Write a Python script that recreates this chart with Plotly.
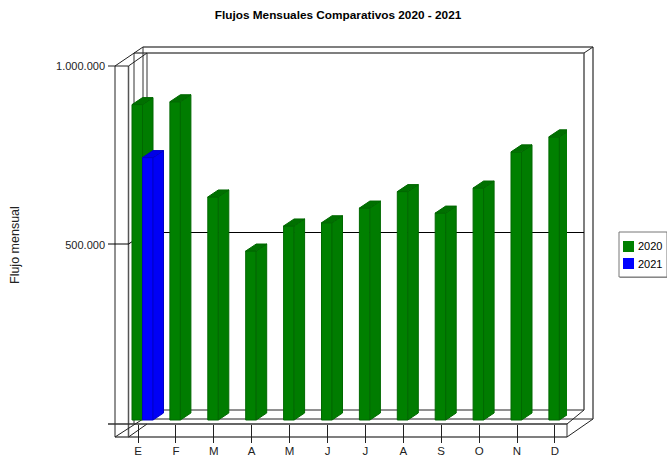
import plotly.graph_objects as go

months = ["E", "F", "M", "A", "M", "J", "J", "A", "S", "O", "N", "D"]
values_2020 = [881000, 889000, 623000, 472000, 542000, 551000, 592000, 638000, 578000, 648000, 749000, 791000]
values_2021 = [733000]
y_ticks = [0, 500000, 1000000]
y_labels = ["", "500.000", "1.000.000"]

W, H = 667, 457
L, R, T, B = 115, 567, 66, 424
STEP = 37.9
TICK0 = 138.0
PX_X = 1 / STEP
PX_Y = 1e6 / (B - T)
xr = [(L - TICK0) * PX_X, (R - TICK0) * PX_X]
BAR_W = 10.5 * PX_X
DEPTH_X = 10.5 * PX_X
DEPTH_Y = 7 * PX_Y
LIFT = 4 * PX_Y


def px(x):
    return (x - L) / (R - L)


def py(y):
    return (B - y) / (B - T)


def seg(x0, y0, x1, y1, color="#333333", width=1):
    return dict(type="line", xref="paper", yref="paper", x0=px(x0), y0=py(y0), x1=px(x1), y1=py(y1),
                line=dict(color=color, width=width), layer="below")


def faces(xs, vals, offset):
    side_x, side_y, top_x, top_y = [], [], [], []
    for x, v in zip(xs, vals):
        a = x + offset
        b = a + BAR_W
        t = v + LIFT
        side_x += [b, b + DEPTH_X, b + DEPTH_X, b, b, None]
        side_y += [LIFT, LIFT + DEPTH_Y, t + DEPTH_Y, t, LIFT, None]
        top_x += [a, a + DEPTH_X, b + DEPTH_X, b, a, None]
        top_y += [t, t + DEPTH_Y, t + DEPTH_Y, t, t, None]
    return side_x, side_y, top_x, top_y


def series(fig, name, xs, vals, offset, front, side, top, edge, xa, ya):
    sx, sy, tx, ty = faces(xs, vals, offset)
    fig.add_trace(go.Scatter(x=sx, y=sy, mode="lines", fill="toself", fillcolor=side, line=dict(color=edge, width=1),
                             showlegend=False, hoverinfo="skip", cliponaxis=False, xaxis=xa, yaxis=ya))
    fig.add_trace(go.Scatter(x=tx, y=ty, mode="lines", fill="toself", fillcolor=top, line=dict(color=edge, width=1),
                             showlegend=False, hoverinfo="skip", cliponaxis=False, xaxis=xa, yaxis=ya))
    fig.add_trace(go.Bar(x=xs, y=vals, base=[LIFT] * len(vals), name=name, width=BAR_W, offset=offset,
                         marker=dict(color=front, line=dict(color=edge, width=1)), showlegend=False,
                         cliponaxis=False, xaxis=xa, yaxis=ya))


fig = go.Figure()
positions = list(range(len(months)))
series(fig, "2020", positions, values_2020, -6 * PX_X, "#008000", "#007c00", "#007000", "#006800", "x", "y")
series(fig, "2021", positions[:len(values_2021)], values_2021, 4.5 * PX_X, "#0000ff", "#0000f5", "#0000e6", "#0000c8", "x2", "y2")

G = "#555555"
shapes = [
    # back walls
    seg(143, 47, 593, 47, G, 1.5), seg(134, 53, 584, 53, G, 1.5),
    seg(143, 419, 593, 419, "#222222"), seg(147, 410, 584, 410, "#222222"),
    seg(134, 53, 134, 424), seg(143, 47, 143, 419), seg(147, 53, 147, 410),
    seg(584, 53, 584, 410, G, 1.5), seg(593, 47, 593, 419, G, 1.5),
    # front frame
    seg(115, 66, 115, 437, "#222222"), seg(128.5, 66, 128.5, 437, G, 1.5),
    seg(108, 424, 567, 424, "#333333", 1.5), seg(115, 437, 567, 437, G, 1.5), seg(567, 424, 567, 437),
    seg(108, 66, 128.5, 66, "#222222"), seg(108, 244, 128.5, 244, "#000000"),
    # depth edges
    seg(115, 66, 143, 47, "#222222"), seg(128.5, 66, 147, 53, "#222222"), seg(115, 437, 143, 419, "#222222"),
    seg(128.5, 437, 147, 424, "#222222"),
    seg(567, 437, 593, 419, "#222222"), seg(567, 424, 584, 410, "#222222"), seg(584, 53, 593, 47, "#222222"),
    seg(128.5, 244, 147, 232, "#000000"),
    # gridline on back wall
    seg(147, 232.5, 584, 232.5, "#000000"),
    # legend
    dict(type="rect", xref="paper", yref="paper", x0=px(620), x1=px(668), y0=py(278), y1=py(233),
         fillcolor="#999999", line=dict(width=0), layer="below"),
    dict(type="rect", xref="paper", yref="paper", x0=px(619), x1=px(667), y0=py(277), y1=py(232),
         fillcolor="white", line=dict(color="#777777", width=1), layer="below"),
    dict(type="rect", xref="paper", yref="paper", x0=px(623), x1=px(634), y0=py(252), y1=py(241),
         fillcolor="#008000", line=dict(width=0)),
    dict(type="rect", xref="paper", yref="paper", x0=px(623), x1=px(634), y0=py(269), y1=py(258),
         fillcolor="#0000ff", line=dict(width=0)),
]

FONT = "Liberation Sans"
annotations = [
    dict(text=t, xref="paper", yref="paper", x=px(637), y=py(y), xanchor="left", yanchor="middle", showarrow=False,
         xshift=-1, font=dict(family=FONT, size=11, color="black"))
    for t, y in (("2020", 246), ("2021", 264))
]
annotations.append(dict(text="Flujo mensual", xref="paper", yref="paper", x=px(15), y=py(245), textangle=-90,
                        xanchor="center", yanchor="middle", showarrow=False,
                        font=dict(family=FONT, size=12.5, color="#222222")))

fig.update_layout(
    width=W, height=H, autosize=False, barmode="overlay", plot_bgcolor="white", paper_bgcolor="white",
    margin=dict(l=L, r=W - R, t=T, b=H - B, pad=0),
    font=dict(family=FONT, size=11, color="#222222"),
    title=dict(text="<b>Flujos Mensuales Comparativos 2020 - 2021</b>", x=338 / W, xanchor="center", y=1 - 15 / H,
               yanchor="middle", font=dict(family=FONT, size=11.8, color="black")),
    xaxis=dict(range=xr, tickmode="array", tickvals=positions, ticktext=months, ticks="outside", ticklen=18,
               tickcolor="#222222", showgrid=False, zeroline=False, showline=False, automargin=False,
               ticklabelstandoff=-2, tickfont=dict(size=11.5)),
    yaxis=dict(range=[0, 1e6], tickmode="array", tickvals=y_ticks, ticktext=y_labels, ticks="", showgrid=False,
               zeroline=False, showline=False, ticklabelstandoff=9, automargin=False),
    xaxis2=dict(range=xr, overlaying="x", visible=False),
    yaxis2=dict(range=[0, 1e6], overlaying="y", visible=False),
    shapes=shapes, annotations=annotations,
)
fig.write_html("out.html", post_script="document.body.style.margin='0';", config={"displayModeBar": False})
